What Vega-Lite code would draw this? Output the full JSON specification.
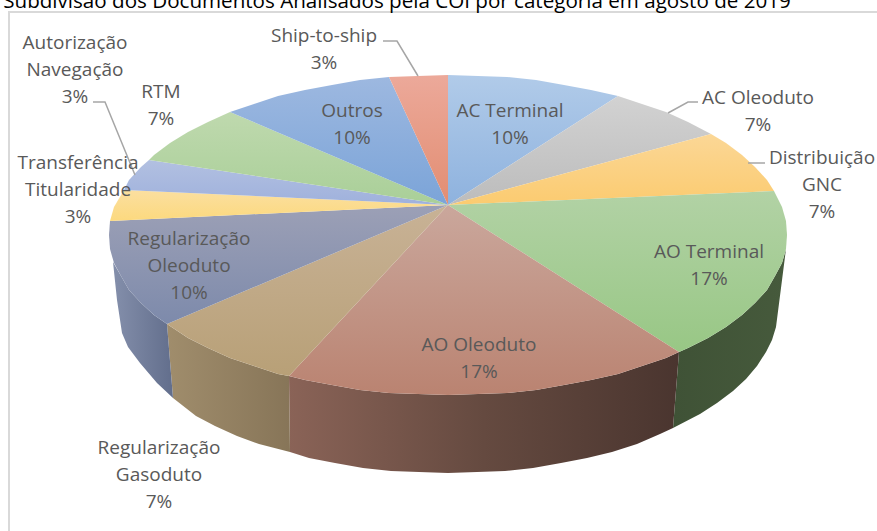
{"$schema":"https://vega.github.io/schema/vega-lite/v6.json","autosize":{"type":"none"},"width":877,"height":531,"padding":0,"background":"white","view":{"stroke":null},
"config":{"axis":null},
"datasets":{
"faces":[
{"slice":"AC Terminal","i":0,"x":448,"y":205},{"slice":"AC Terminal","i":1,"x":448,"y":75},{"slice":"AC Terminal","i":2,"x":478,"y":76},{"slice":"AC Terminal","i":3,"x":507,"y":77},{"slice":"AC Terminal","i":4,"x":536,"y":80},{"slice":"AC Terminal","i":5,"x":564,"y":85},{"slice":"AC Terminal","i":6,"x":591,"y":90},{"slice":"AC Terminal","i":7,"x":618,"y":96},
{"slice":"AC Oleoduto","i":0,"x":448,"y":205},{"slice":"AC Oleoduto","i":1,"x":618,"y":96},{"slice":"AC Oleoduto","i":2,"x":642,"y":104},{"slice":"AC Oleoduto","i":3,"x":666,"y":112},{"slice":"AC Oleoduto","i":4,"x":688,"y":122},{"slice":"AC Oleoduto","i":5,"x":711,"y":134},
{"slice":"Distribuição GNC","i":0,"x":448,"y":205},{"slice":"Distribuição GNC","i":1,"x":711,"y":134},{"slice":"Distribuição GNC","i":2,"x":726,"y":143},{"slice":"Distribuição GNC","i":3,"x":742,"y":155},{"slice":"Distribuição GNC","i":4,"x":755,"y":167},{"slice":"Distribuição GNC","i":5,"x":767,"y":180},{"slice":"Distribuição GNC","i":6,"x":774,"y":191},
{"slice":"AO Terminal","i":0,"x":448,"y":205},{"slice":"AO Terminal","i":1,"x":774,"y":191},{"slice":"AO Terminal","i":2,"x":782,"y":207},{"slice":"AO Terminal","i":3,"x":786,"y":221},{"slice":"AO Terminal","i":4,"x":787,"y":235},{"slice":"AO Terminal","i":5,"x":786,"y":249},{"slice":"AO Terminal","i":6,"x":782,"y":263},{"slice":"AO Terminal","i":7,"x":775,"y":276},{"slice":"AO Terminal","i":8,"x":767,"y":290},{"slice":"AO Terminal","i":9,"x":755,"y":303},{"slice":"AO Terminal","i":10,"x":742,"y":315},{"slice":"AO Terminal","i":11,"x":726,"y":327},{"slice":"AO Terminal","i":12,"x":708,"y":338},{"slice":"AO Terminal","i":13,"x":688,"y":348},{"slice":"AO Terminal","i":14,"x":679,"y":352},
{"slice":"AO Oleoduto","i":0,"x":448,"y":205},{"slice":"AO Oleoduto","i":1,"x":679,"y":352},{"slice":"AO Oleoduto","i":2,"x":666,"y":358},{"slice":"AO Oleoduto","i":3,"x":642,"y":366},{"slice":"AO Oleoduto","i":4,"x":618,"y":374},{"slice":"AO Oleoduto","i":5,"x":591,"y":380},{"slice":"AO Oleoduto","i":6,"x":564,"y":385},{"slice":"AO Oleoduto","i":7,"x":536,"y":390},{"slice":"AO Oleoduto","i":8,"x":507,"y":393},{"slice":"AO Oleoduto","i":9,"x":478,"y":394},{"slice":"AO Oleoduto","i":10,"x":448,"y":395},{"slice":"AO Oleoduto","i":11,"x":418,"y":394},{"slice":"AO Oleoduto","i":12,"x":389,"y":393},{"slice":"AO Oleoduto","i":13,"x":360,"y":390},{"slice":"AO Oleoduto","i":14,"x":332,"y":385},{"slice":"AO Oleoduto","i":15,"x":305,"y":380},{"slice":"AO Oleoduto","i":16,"x":289,"y":376},
{"slice":"Regularização Gasoduto","i":0,"x":448,"y":205},{"slice":"Regularização Gasoduto","i":1,"x":289,"y":376},{"slice":"Regularização Gasoduto","i":2,"x":278,"y":374},{"slice":"Regularização Gasoduto","i":3,"x":254,"y":366},{"slice":"Regularização Gasoduto","i":4,"x":230,"y":358},{"slice":"Regularização Gasoduto","i":5,"x":208,"y":348},{"slice":"Regularização Gasoduto","i":6,"x":188,"y":338},{"slice":"Regularização Gasoduto","i":7,"x":167,"y":324},
{"slice":"Regularização Oleoduto","i":0,"x":448,"y":205},{"slice":"Regularização Oleoduto","i":1,"x":167,"y":324},{"slice":"Regularização Oleoduto","i":2,"x":154,"y":315},{"slice":"Regularização Oleoduto","i":3,"x":141,"y":303},{"slice":"Regularização Oleoduto","i":4,"x":129,"y":290},{"slice":"Regularização Oleoduto","i":5,"x":121,"y":276},{"slice":"Regularização Oleoduto","i":6,"x":114,"y":263},{"slice":"Regularização Oleoduto","i":7,"x":110,"y":249},{"slice":"Regularização Oleoduto","i":8,"x":109,"y":235},{"slice":"Regularização Oleoduto","i":9,"x":110,"y":221},
{"slice":"Transferência Titularidade","i":0,"x":448,"y":205},{"slice":"Transferência Titularidade","i":1,"x":110,"y":221},{"slice":"Transferência Titularidade","i":2,"x":114,"y":207},{"slice":"Transferência Titularidade","i":3,"x":124,"y":190},
{"slice":"Autorização Navegação","i":0,"x":448,"y":205},{"slice":"Autorização Navegação","i":1,"x":124,"y":190},{"slice":"Autorização Navegação","i":2,"x":129,"y":180},{"slice":"Autorização Navegação","i":3,"x":141,"y":167},{"slice":"Autorização Navegação","i":4,"x":149,"y":160},
{"slice":"RTM","i":0,"x":448,"y":205},{"slice":"RTM","i":1,"x":149,"y":160},{"slice":"RTM","i":2,"x":154,"y":155},{"slice":"RTM","i":3,"x":170,"y":143},{"slice":"RTM","i":4,"x":188,"y":132},{"slice":"RTM","i":5,"x":208,"y":122},{"slice":"RTM","i":6,"x":230,"y":112},
{"slice":"Outros","i":0,"x":448,"y":205},{"slice":"Outros","i":1,"x":230,"y":112},{"slice":"Outros","i":2,"x":254,"y":104},{"slice":"Outros","i":3,"x":278,"y":96},{"slice":"Outros","i":4,"x":305,"y":90},{"slice":"Outros","i":5,"x":332,"y":85},{"slice":"Outros","i":6,"x":360,"y":80},{"slice":"Outros","i":7,"x":389,"y":77},
{"slice":"Ship-to-ship","i":0,"x":448,"y":205},{"slice":"Ship-to-ship","i":1,"x":389,"y":77},{"slice":"Ship-to-ship","i":2,"x":418,"y":76},{"slice":"Ship-to-ship","i":3,"x":448,"y":75}
],
"walls":[
{"slice":"AO Terminal","i":0,"x":786,"y":249},{"slice":"AO Terminal","i":1,"x":782,"y":263},{"slice":"AO Terminal","i":2,"x":775,"y":276},{"slice":"AO Terminal","i":3,"x":767,"y":290},{"slice":"AO Terminal","i":4,"x":755,"y":303},{"slice":"AO Terminal","i":5,"x":742,"y":315},{"slice":"AO Terminal","i":6,"x":726,"y":327},{"slice":"AO Terminal","i":7,"x":708,"y":338},{"slice":"AO Terminal","i":8,"x":688,"y":348},{"slice":"AO Terminal","i":9,"x":679,"y":352},{"slice":"AO Terminal","i":10,"x":673,"y":428},{"slice":"AO Terminal","i":11,"x":700,"y":414},{"slice":"AO Terminal","i":12,"x":717,"y":403},{"slice":"AO Terminal","i":13,"x":733,"y":391},{"slice":"AO Terminal","i":14,"x":746,"y":379},{"slice":"AO Terminal","i":15,"x":757,"y":366},{"slice":"AO Terminal","i":16,"x":766,"y":352},{"slice":"AO Terminal","i":17,"x":772,"y":340},{"slice":"AO Terminal","i":18,"x":776,"y":327},
{"slice":"AO Oleoduto","i":0,"x":679,"y":352},{"slice":"AO Oleoduto","i":1,"x":666,"y":358},{"slice":"AO Oleoduto","i":2,"x":642,"y":366},{"slice":"AO Oleoduto","i":3,"x":618,"y":374},{"slice":"AO Oleoduto","i":4,"x":591,"y":380},{"slice":"AO Oleoduto","i":5,"x":564,"y":385},{"slice":"AO Oleoduto","i":6,"x":536,"y":390},{"slice":"AO Oleoduto","i":7,"x":507,"y":393},{"slice":"AO Oleoduto","i":8,"x":478,"y":394},{"slice":"AO Oleoduto","i":9,"x":448,"y":395},{"slice":"AO Oleoduto","i":10,"x":418,"y":394},{"slice":"AO Oleoduto","i":11,"x":389,"y":393},{"slice":"AO Oleoduto","i":12,"x":360,"y":390},{"slice":"AO Oleoduto","i":13,"x":332,"y":385},{"slice":"AO Oleoduto","i":14,"x":305,"y":380},{"slice":"AO Oleoduto","i":15,"x":289,"y":376},{"slice":"AO Oleoduto","i":16,"x":290,"y":452},{"slice":"AO Oleoduto","i":17,"x":309,"y":458},{"slice":"AO Oleoduto","i":18,"x":335,"y":463},{"slice":"AO Oleoduto","i":19,"x":363,"y":468},{"slice":"AO Oleoduto","i":20,"x":391,"y":471},{"slice":"AO Oleoduto","i":21,"x":419,"y":472},{"slice":"AO Oleoduto","i":22,"x":448,"y":473},{"slice":"AO Oleoduto","i":23,"x":477,"y":472},{"slice":"AO Oleoduto","i":24,"x":505,"y":471},{"slice":"AO Oleoduto","i":25,"x":533,"y":468},{"slice":"AO Oleoduto","i":26,"x":561,"y":463},{"slice":"AO Oleoduto","i":27,"x":587,"y":458},{"slice":"AO Oleoduto","i":28,"x":612,"y":452},{"slice":"AO Oleoduto","i":29,"x":637,"y":444},{"slice":"AO Oleoduto","i":30,"x":660,"y":434},{"slice":"AO Oleoduto","i":31,"x":673,"y":428},
{"slice":"Regularização Gasoduto","i":0,"x":289,"y":376},{"slice":"Regularização Gasoduto","i":1,"x":278,"y":374},{"slice":"Regularização Gasoduto","i":2,"x":254,"y":366},{"slice":"Regularização Gasoduto","i":3,"x":230,"y":358},{"slice":"Regularização Gasoduto","i":4,"x":208,"y":348},{"slice":"Regularização Gasoduto","i":5,"x":188,"y":338},{"slice":"Regularização Gasoduto","i":6,"x":167,"y":324},{"slice":"Regularização Gasoduto","i":7,"x":173,"y":398},{"slice":"Regularização Gasoduto","i":8,"x":196,"y":416},{"slice":"Regularização Gasoduto","i":9,"x":215,"y":426},{"slice":"Regularização Gasoduto","i":10,"x":237,"y":436},{"slice":"Regularização Gasoduto","i":11,"x":259,"y":444},{"slice":"Regularização Gasoduto","i":12,"x":290,"y":452},
{"slice":"Regularização Oleoduto","i":0,"x":113,"y":262},{"slice":"Regularização Oleoduto","i":1,"x":121,"y":276},{"slice":"Regularização Oleoduto","i":2,"x":129,"y":290},{"slice":"Regularização Oleoduto","i":3,"x":141,"y":303},{"slice":"Regularização Oleoduto","i":4,"x":154,"y":315},{"slice":"Regularização Oleoduto","i":5,"x":167,"y":324},{"slice":"Regularização Oleoduto","i":6,"x":173,"y":398},{"slice":"Regularização Oleoduto","i":7,"x":157,"y":383},{"slice":"Regularização Oleoduto","i":8,"x":140,"y":363},{"slice":"Regularização Oleoduto","i":9,"x":128,"y":347},{"slice":"Regularização Oleoduto","i":10,"x":122,"y":333},{"slice":"Regularização Oleoduto","i":11,"x":117,"y":300}
],
"frame":[{"i":0,"x":877,"y":12},{"i":1,"x":9,"y":12},{"i":2,"x":9,"y":531}],
"leaders":[
{"slice":"Ship-to-ship","i":0,"x":383,"y":41},{"slice":"Ship-to-ship","i":1,"x":397,"y":41},{"slice":"Ship-to-ship","i":2,"x":418,"y":76},
{"slice":"Autorização Navegação","i":0,"x":93,"y":102},{"slice":"Autorização Navegação","i":1,"x":105,"y":102},{"slice":"Autorização Navegação","i":2,"x":135,"y":175},
{"slice":"AC Oleoduto","i":0,"x":698,"y":102},{"slice":"AC Oleoduto","i":1,"x":688,"y":102},{"slice":"AC Oleoduto","i":2,"x":668,"y":113},
{"slice":"Distribuição GNC","i":0,"x":765,"y":163},{"slice":"Distribuição GNC","i":1,"x":748,"y":163}
],
"labels":[
{"label":"Ship-to-ship\n3%","x":324,"y":36},
{"label":"Autorização\nNavegação\n3%","x":75,"y":43},
{"label":"RTM\n7%","x":161,"y":92},
{"label":"Transferência\nTitularidade\n3%","x":78,"y":163},
{"label":"Outros\n10%","x":352,"y":111},
{"label":"AC Terminal\n10%","x":510,"y":111},
{"label":"AC Oleoduto\n7%","x":758,"y":98},
{"label":"Distribuição\nGNC\n7%","x":822,"y":158},
{"label":"AO Terminal\n17%","x":709,"y":252},
{"label":"AO Oleoduto\n17%","x":479,"y":345},
{"label":"Regularização\nOleoduto\n10%","x":189,"y":239},
{"label":"Regularização\nGasoduto\n7%","x":159,"y":448}
],
"title":[{"label":"Subdivisão dos Documentos Analisados pela COI por categoria em agosto de 2019","x":397,"y":8}]
},
"encoding":{
"x":{"field":"x","type":"quantitative","scale":{"domain":[0,877],"nice":false,"zero":false},"axis":null},
"y":{"field":"y","type":"quantitative","scale":{"domain":[531,0],"nice":false,"zero":false},"axis":null},
"order":{"field":"i","type":"quantitative"}
},
"layer":[
{"data":{"name":"frame"},"mark":{"type":"line","stroke":"#d9d9d9","strokeWidth":2,"clip":false}},
{"data":{"name":"walls"},"transform":[{"filter":"datum.slice==='AO Terminal'"}],"mark":{"type":"line","filled":true,"strokeWidth":0,"interpolate":"linear-closed","fill":{"x1":0,"y1":0,"x2":1,"y2":0,"gradient":"linear","stops":[{"offset":0,"color":"#3f5236"},{"offset":1,"color":"#465a3c"}]}}},
{"data":{"name":"walls"},"transform":[{"filter":"datum.slice==='AO Oleoduto'"}],"mark":{"type":"line","filled":true,"strokeWidth":0,"interpolate":"linear-closed","fill":{"x1":0,"y1":0,"x2":1,"y2":0,"gradient":"linear","stops":[{"offset":0,"color":"#8a6357"},{"offset":0.5,"color":"#654a40"},{"offset":1,"color":"#4a352f"}]}}},
{"data":{"name":"walls"},"transform":[{"filter":"datum.slice==='Regularização Gasoduto'"}],"mark":{"type":"line","filled":true,"strokeWidth":0,"interpolate":"linear-closed","fill":{"x1":0,"y1":0,"x2":1,"y2":0,"gradient":"linear","stops":[{"offset":0,"color":"#a08d6c"},{"offset":1,"color":"#877558"}]}}},
{"data":{"name":"walls"},"transform":[{"filter":"datum.slice==='Regularização Oleoduto'"}],"mark":{"type":"line","filled":true,"strokeWidth":0,"interpolate":"linear-closed","fill":{"x1":0,"y1":0,"x2":1,"y2":0,"gradient":"linear","stops":[{"offset":0,"color":"#848fab"},{"offset":1,"color":"#626e8c"}]}}},
{"data":{"name":"faces"},"transform":[{"filter":"datum.slice==='AC Terminal'"}],"mark":{"type":"line","filled":true,"strokeWidth":0,"interpolate":"linear-closed","fill":{"x1":0,"y1":0,"x2":0,"y2":1,"gradient":"linear","stops":[{"offset":0,"color":"#b1cbe9"},{"offset":1,"color":"#8eb2de"}]}}},
{"data":{"name":"faces"},"transform":[{"filter":"datum.slice==='AC Oleoduto'"}],"mark":{"type":"line","filled":true,"strokeWidth":0,"interpolate":"linear-closed","fill":{"x1":0,"y1":0,"x2":0,"y2":1,"gradient":"linear","stops":[{"offset":0,"color":"#d2d2d2"},{"offset":1,"color":"#bcbcbc"}]}}},
{"data":{"name":"faces"},"transform":[{"filter":"datum.slice==='Distribuição GNC'"}],"mark":{"type":"line","filled":true,"strokeWidth":0,"interpolate":"linear-closed","fill":{"x1":0,"y1":0,"x2":0,"y2":1,"gradient":"linear","stops":[{"offset":0,"color":"#fbd796"},{"offset":1,"color":"#fbcb70"}]}}},
{"data":{"name":"faces"},"transform":[{"filter":"datum.slice==='AO Terminal'"}],"mark":{"type":"line","filled":true,"strokeWidth":0,"interpolate":"linear-closed","fill":{"x1":0,"y1":0,"x2":0,"y2":1,"gradient":"linear","stops":[{"offset":0,"color":"#b2d2a5"},{"offset":1,"color":"#98c785"}]}}},
{"data":{"name":"faces"},"transform":[{"filter":"datum.slice==='AO Oleoduto'"}],"mark":{"type":"line","filled":true,"strokeWidth":0,"interpolate":"linear-closed","fill":{"x1":0,"y1":0,"x2":0,"y2":1,"gradient":"linear","stops":[{"offset":0,"color":"#caa79c"},{"offset":1,"color":"#ba8371"}]}}},
{"data":{"name":"faces"},"transform":[{"filter":"datum.slice==='Regularização Gasoduto'"}],"mark":{"type":"line","filled":true,"strokeWidth":0,"interpolate":"linear-closed","fill":{"x1":0,"y1":0,"x2":0,"y2":1,"gradient":"linear","stops":[{"offset":0,"color":"#c8b296"},{"offset":1,"color":"#b8a077"}]}}},
{"data":{"name":"faces"},"transform":[{"filter":"datum.slice==='Regularização Oleoduto'"}],"mark":{"type":"line","filled":true,"strokeWidth":0,"interpolate":"linear-closed","fill":{"x1":0,"y1":0,"x2":0,"y2":1,"gradient":"linear","stops":[{"offset":0,"color":"#9ca0b6"},{"offset":1,"color":"#7d8aab"}]}}},
{"data":{"name":"faces"},"transform":[{"filter":"datum.slice==='Transferência Titularidade'"}],"mark":{"type":"line","filled":true,"strokeWidth":0,"interpolate":"linear-closed","fill":{"x1":0,"y1":0,"x2":0,"y2":1,"gradient":"linear","stops":[{"offset":0,"color":"#fbdfa0"},{"offset":1,"color":"#fcd97e"}]}}},
{"data":{"name":"faces"},"transform":[{"filter":"datum.slice==='Autorização Navegação'"}],"mark":{"type":"line","filled":true,"strokeWidth":0,"interpolate":"linear-closed","fill":{"x1":0,"y1":0,"x2":0,"y2":1,"gradient":"linear","stops":[{"offset":0,"color":"#b2c0e1"},{"offset":1,"color":"#9fb1dc"}]}}},
{"data":{"name":"faces"},"transform":[{"filter":"datum.slice==='RTM'"}],"mark":{"type":"line","filled":true,"strokeWidth":0,"interpolate":"linear-closed","fill":{"x1":0,"y1":0,"x2":0,"y2":1,"gradient":"linear","stops":[{"offset":0,"color":"#bfd9ae"},{"offset":1,"color":"#a9cf98"}]}}},
{"data":{"name":"faces"},"transform":[{"filter":"datum.slice==='Outros'"}],"mark":{"type":"line","filled":true,"strokeWidth":0,"interpolate":"linear-closed","fill":{"x1":0,"y1":0,"x2":0,"y2":1,"gradient":"linear","stops":[{"offset":0,"color":"#9db8e0"},{"offset":1,"color":"#7ba4d8"}]}}},
{"data":{"name":"faces"},"transform":[{"filter":"datum.slice==='Ship-to-ship'"}],"mark":{"type":"line","filled":true,"strokeWidth":0,"interpolate":"linear-closed","fill":{"x1":0,"y1":0,"x2":0,"y2":1,"gradient":"linear","stops":[{"offset":0,"color":"#eca99a"},{"offset":1,"color":"#e28d72"}]}}},
{"data":{"name":"leaders"},"mark":{"type":"line","stroke":"#a6a6a6","strokeWidth":1.5},"encoding":{"detail":{"field":"slice"}}},
{"data":{"name":"labels"},"mark":{"type":"text","font":"Open Sans","fontSize":19,"color":"#595959","lineBreak":"\n","lineHeight":27,"align":"center","baseline":"middle"},"encoding":{"text":{"field":"label"},"order":null}},
{"data":{"name":"title"},"mark":{"type":"text","font":"Open Sans","fontSize":20.6,"color":"#000000","align":"center","baseline":"alphabetic"},"encoding":{"text":{"field":"label"},"order":null}}
]}
